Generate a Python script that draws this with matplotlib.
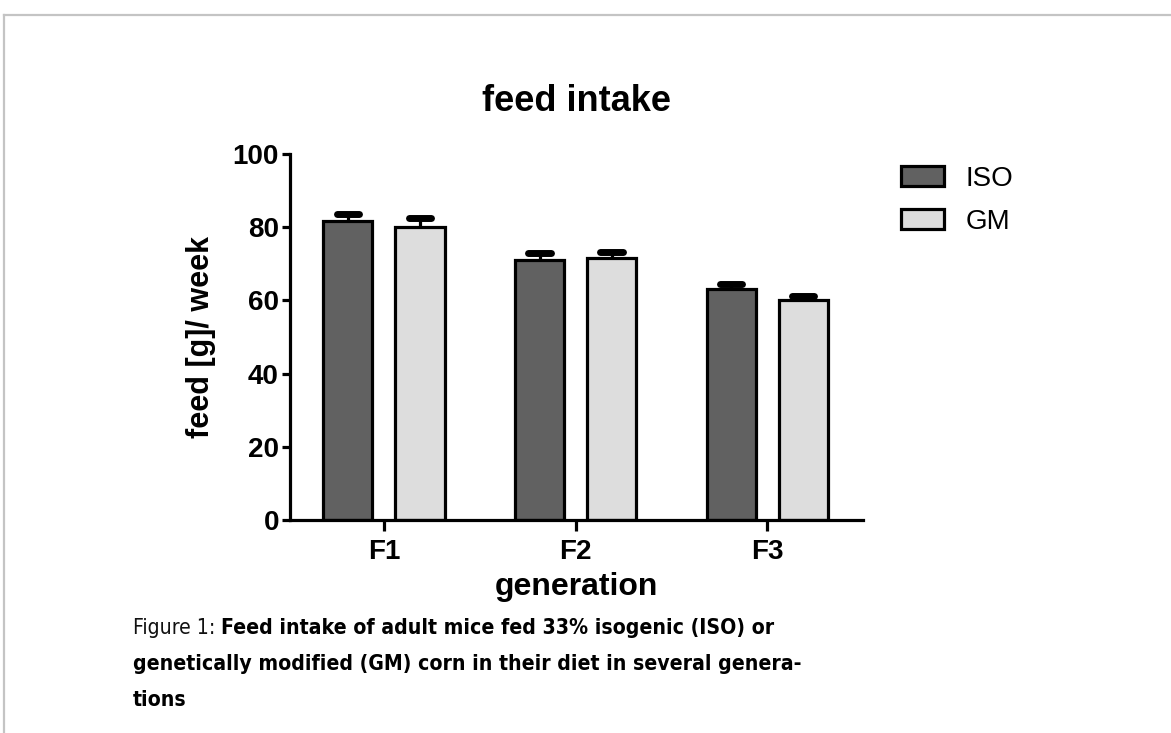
import numpy as np
import matplotlib.pyplot as plt
from matplotlib.patches import Patch
from matplotlib.lines import Line2D

# values
generations = ['F1', 'F2', 'F3']
iso_mean = [81.6, 70.9, 63.2]
gm_mean = [80.0, 71.7, 60.0]
iso_err = [2.1, 2.1, 1.2]
gm_err = [2.4, 1.6, 1.2]

series_names = ['ISO', 'GM']
series_colors = ['#616161', '#dddddd']

caption_lead = 'Figure 1: '
caption_lines = ['Feed intake of adult mice fed 33% isogenic (ISO) or',
                 'genetically modified (GM) corn in their diet in several genera-',
                 'tions']

plt.rcParams['font.family'] = ['Liberation Sans', 'DejaVu Sans']

fig = plt.figure(figsize=(11.71, 7.33), dpi=100)
ax = fig.add_axes([0.2477, 0.2906, 0.4893, 0.4994])

x = np.arange(len(generations))
width = 0.256
offset = 0.188
lw = 2.3
cap_half = 0.058

for i, (means, errs) in enumerate([(iso_mean, iso_err), (gm_mean, gm_err)]):
    pos = x + (-offset if i == 0 else offset)
    means = np.array(means)
    errs = np.array(errs)
    ax.bar(pos, means, width, color=series_colors[i], edgecolor='black',
           linewidth=lw, zorder=2)
    ax.errorbar(pos, means, yerr=[np.zeros(len(errs)), errs], fmt='none',
                ecolor='black', elinewidth=lw, capsize=0, zorder=1)
    ax.hlines(means + errs, pos - cap_half, pos + cap_half, color='black',
              linewidth=5, capstyle='round', zorder=3)

ax.set_ylim(0, 100)
ax.set_xlim(-0.49, 2.5)
ax.set_yticks([0, 20, 40, 60, 80, 100])
ax.set_xticks(x)
ax.set_xticklabels(generations)

for side in ['top', 'right']:
    ax.spines[side].set_visible(False)
for side in ['left', 'bottom']:
    ax.spines[side].set_linewidth(lw)
ax.tick_params(axis='y', length=6, width=lw, labelsize=20, pad=2)
ax.tick_params(axis='x', length=8, width=lw, labelsize=20, pad=6)
for lab in ax.get_xticklabels() + ax.get_yticklabels():
    lab.set_fontweight('bold')

ax.set_title('feed intake', fontsize=26, fontweight='bold', pad=31)
ax.set_ylabel('feed [g]/ week', fontsize=22, fontweight='bold', labelpad=12)
ax.set_xlabel('generation', fontsize=23, fontweight='bold', labelpad=5)

handles = [Patch(facecolor=c, edgecolor='black', linewidth=lw) for c in series_colors]
ax.legend(handles, series_names, loc='upper left', bbox_to_anchor=(1.022, 1.036),
          frameon=False, fontsize=20, handlelength=1.55, handleheight=0.75,
          handletextpad=0.8, labelspacing=0.62)

# page frame
fig.add_artist(Line2D([0.0034, 1.0], [1 - 15 / 733, 1 - 15 / 733],
                      color='#c4c4c4', linewidth=1.6))
fig.add_artist(Line2D([0.0034, 0.0034], [0, 1 - 15 / 733],
                      color='#c4c4c4', linewidth=1.6))

# caption
cap_x = 133 / 1171
cap_size = 15.2
cap_font = dict(fontsize=cap_size, family='DejaVu Sans', fontstretch='condensed',
                va='center')
first = fig.text(cap_x, 1 - 628 / 733, caption_lead, color='#111111', **cap_font)
fig.canvas.draw()
bb = first.get_window_extent()
fig.text(bb.x1 / fig.bbox.width, 1 - 628 / 733, caption_lines[0],
         fontweight='bold', color='black', **cap_font)
for k, line in enumerate(caption_lines[1:]):
    fig.text(cap_x, 1 - (664 + 36 * k) / 733, line, fontweight='bold',
             color='black', **cap_font)

fig.savefig('out.png', dpi=100)
